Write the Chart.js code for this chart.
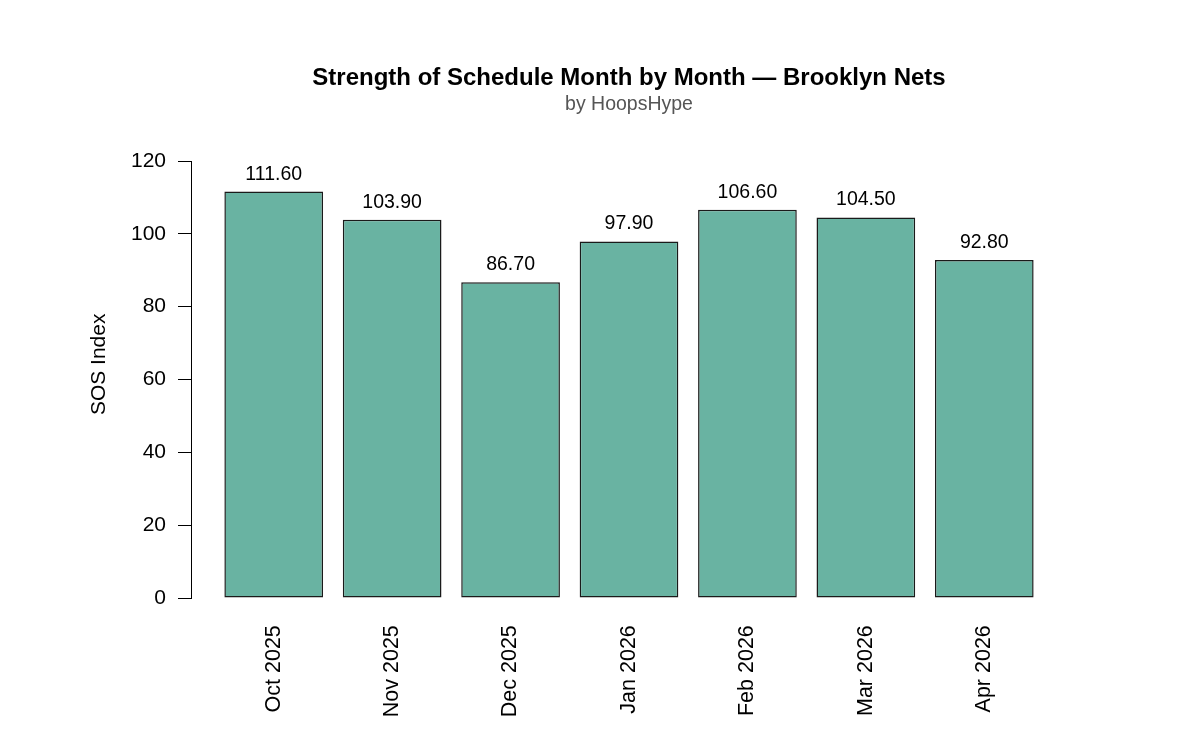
<!DOCTYPE html>
<html>
<head>
<meta charset="utf-8">
<script src="https://cdn.jsdelivr.net/npm/chart.js@4"></script>
<style>
html,body{margin:0;padding:0;background:#fff;}
#wrap{width:1179px;height:748px;}
</style>
</head>
<body>
<div id="wrap"><canvas id="c" width="1179" height="748"></canvas></div>
<script>
const categories = ["Oct 2025","Nov 2025","Dec 2025","Jan 2026","Feb 2026","Mar 2026","Apr 2026"];
const sosValues = [111.6, 103.9, 86.7, 97.9, 106.6, 104.5, 92.8];
const yTicks = [0, 20, 40, 60, 80, 100, 120];

const FONT = "'Liberation Sans', Arial, Helvetica, sans-serif";

// R-style y limits: ylim = c(0, max*1.15), extended by 4% each side
const ylimTop = Math.max(...sosValues) * 1.15;
const yPad = ylimTop * 0.04;

const valueLabels = {
  id: 'valueLabels',
  afterDatasetsDraw(chart) {
    const ctx = chart.ctx;
    const meta = chart.getDatasetMeta(0);
    ctx.save();
    ctx.font = "19.5px " + FONT;
    ctx.fillStyle = "#000";
    ctx.textAlign = "center";
    ctx.textBaseline = "alphabetic";
    meta.data.forEach((bar, i) => {
      ctx.fillText(sosValues[i].toFixed(2), bar.x, bar.y - 12);
    });
    ctx.restore();
  }
};

// R draws the axis line only between the first and last tick
const yAxisLine = {
  id: 'yAxisLine',
  afterDraw(chart) {
    const s = chart.scales.y;
    const ctx = chart.ctx;
    const x = Math.round(s.right) - 0.5;
    ctx.save();
    ctx.strokeStyle = '#000';
    ctx.lineWidth = 1;
    ctx.beginPath();
    ctx.moveTo(x, Math.round(s.getPixelForValue(yTicks[0])) + 0.5);
    ctx.lineTo(x, Math.round(s.getPixelForValue(yTicks[yTicks.length - 1])) + 0.5);
    ctx.stroke();
    ctx.restore();
  }
};

new Chart(document.getElementById('c'), {
  type: 'bar',
  data: {
    datasets: [{
      data: sosValues.map((v, i) => ({x: i, y: v})),
      backgroundColor: '#69b3a2',
      borderColor: '#1a1a1a',
      borderWidth: 1.5,
      borderSkipped: false,
      barPercentage: 1/1.2,
      categoryPercentage: 1
    }]
  },
  options: {
    responsive: false,
    animation: false,
    devicePixelRatio: 1,
    layout: { padding: { left: 0, right: 113, top: 0, bottom: 0 } },
    plugins: {
      legend: { display: false },
      tooltip: { enabled: false },
      title: {
        display: true,
        fullSize: false,
        text: 'Strength of Schedule Month by Month \u2014 Brooklyn Nets',
        color: '#000',
        font: { family: FONT, size: 24, weight: 'bold', lineHeight: 1 },
        padding: { top: 66, bottom: 0 }
      },
      subtitle: {
        display: true,
        fullSize: false,
        text: 'by HoopsHype',
        color: '#555',
        font: { family: FONT, size: 19.5, lineHeight: 0.7 },
        padding: { top: 8.2, bottom: 0.1 }
      }
    },
    scales: {
      x: {
        type: 'linear',
        min: -0.69,
        max: 6.69,
        offset: false,
        grid: { display: false, drawTicks: false },
        border: { display: false },
        afterBuildTicks(scale) { scale.ticks = categories.map((c, i) => ({value: i})); },
        afterFit(scale) { scale.height = 131.3; },
        ticks: {
          autoSkip: false,
          minRotation: 90,
          maxRotation: 90,
          padding: 8.5,
          color: '#000',
          font: { family: FONT, size: 21.5 },
          callback: (v) => categories[v]
        }
      },
      y: {
        min: -yPad,
        max: ylimTop + yPad,
        afterBuildTicks(scale) { scale.ticks = yTicks.map(v => ({value: v})); },
        afterFit(scale) { scale.width = 192; },
        grid: { display: true, drawOnChartArea: false, drawTicks: true, tickLength: 14, color: '#000', lineWidth: 1 },
        border: { display: false },
        ticks: {
          padding: 12,
          color: '#000',
          font: { family: FONT, size: 21 }
        },
        title: {
          display: true,
          text: 'SOS Index',
          color: '#000',
          font: { family: FONT, size: 21, lineHeight: 1.2 },
          padding: { top: 87, bottom: 0 }
        }
      }
    }
  },
  plugins: [valueLabels, yAxisLine]
});
</script>
</body>
</html>
